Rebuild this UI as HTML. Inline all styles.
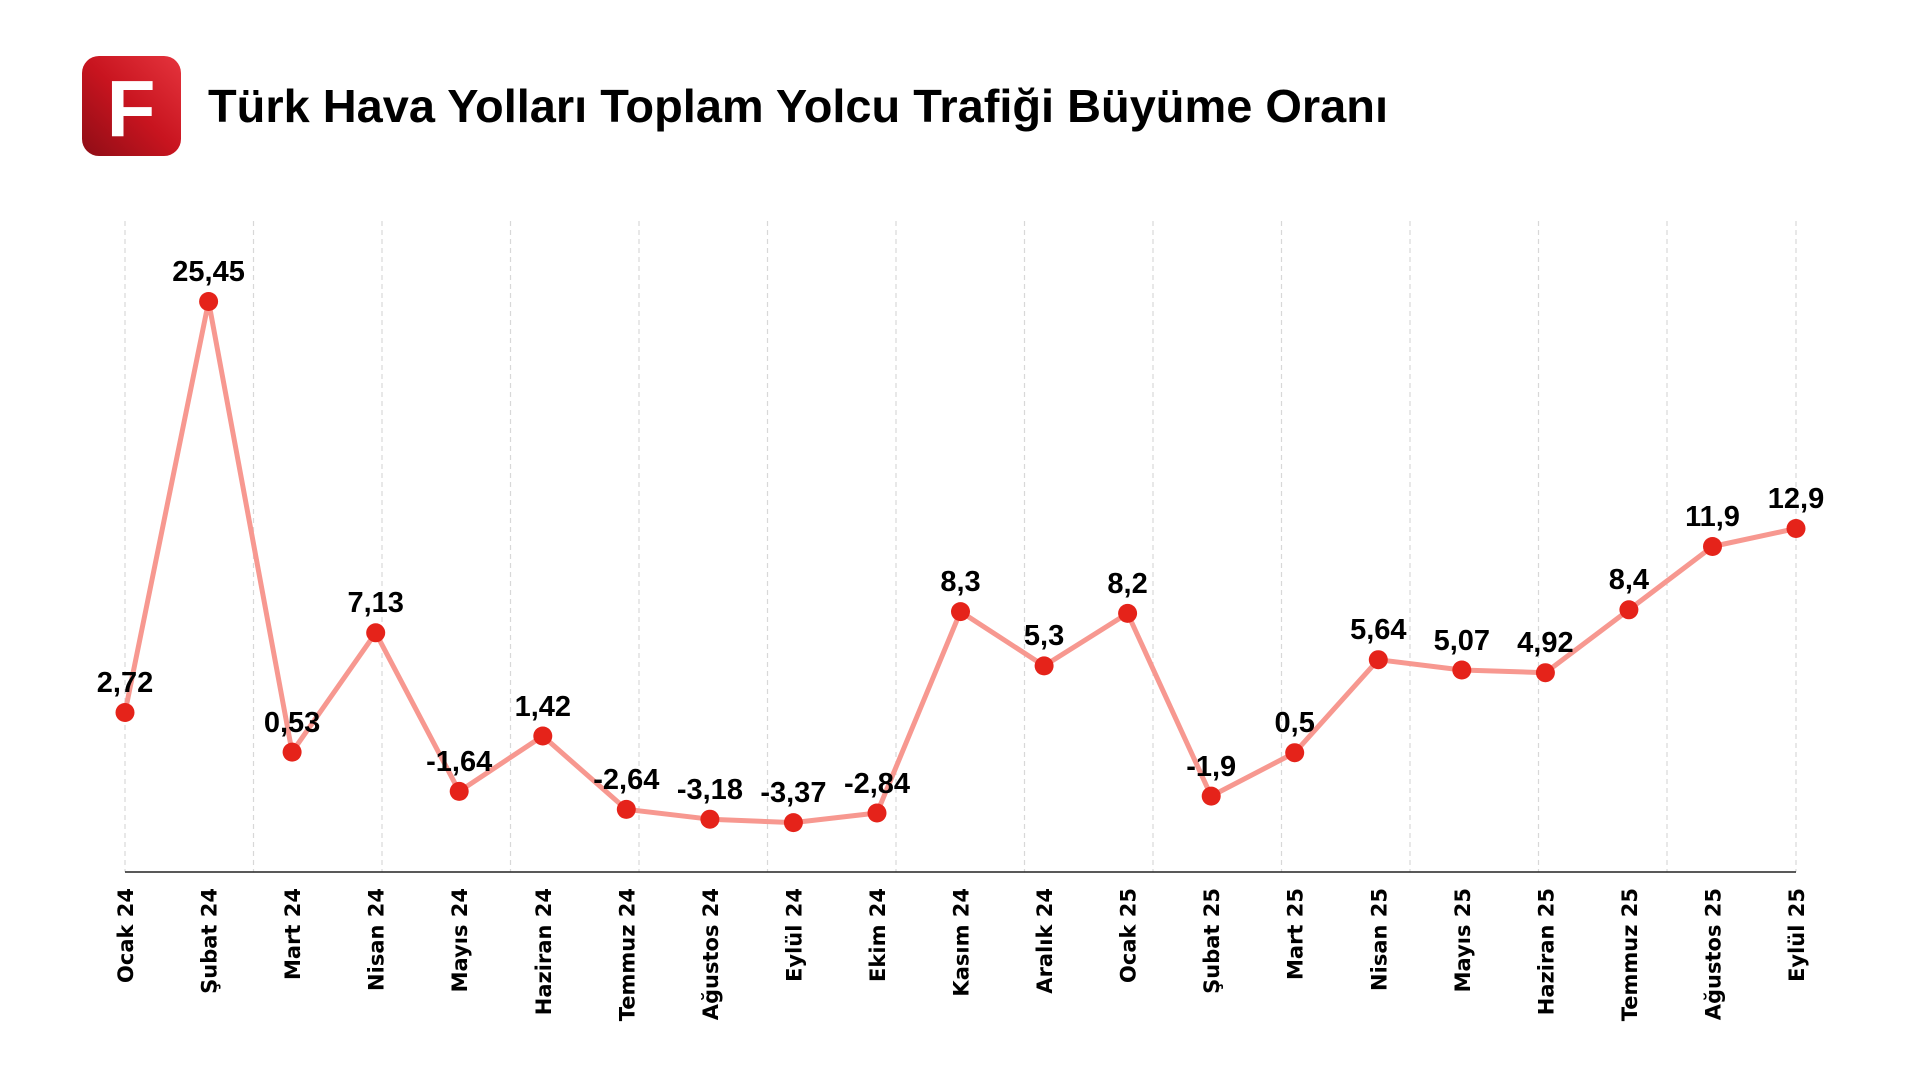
<!DOCTYPE html>
<html><head><meta charset="utf-8"><style>
html,body{margin:0;padding:0;background:#fff;width:1920px;height:1080px;overflow:hidden}
</style></head><body>
<svg width="1920" height="1080" viewBox="0 0 1920 1080" xmlns="http://www.w3.org/2000/svg">
<defs>
<linearGradient id="lg" x1="0" y1="1" x2="1" y2="0">
<stop offset="0" stop-color="#8e0d16"/><stop offset="0.5" stop-color="#c8141f"/><stop offset="1" stop-color="#e5343d"/>
</linearGradient>
</defs>
<rect x="82" y="56" width="99" height="100" rx="17" fill="url(#lg)"/>
<text x="131" y="136" text-anchor="middle" font-family="Liberation Sans Narrow, Liberation Sans, sans-serif" font-weight="bold" font-size="80" fill="#fff">F</text>
<text x="208" y="122" font-family="Liberation Sans Narrow, Liberation Sans, sans-serif" font-weight="bold" font-size="46" fill="#000" textLength="1180" lengthAdjust="spacingAndGlyphs">Türk Hava Yolları Toplam Yolcu Trafiği Büyüme Oranı</text>
<g stroke="#d8d8d8" stroke-width="1.2" stroke-dasharray="5,4">
<line x1="125" y1="221" x2="125" y2="872"/><line x1="253.5" y1="221" x2="253.5" y2="872"/><line x1="382" y1="221" x2="382" y2="872"/><line x1="510.5" y1="221" x2="510.5" y2="872"/><line x1="639" y1="221" x2="639" y2="872"/><line x1="767.5" y1="221" x2="767.5" y2="872"/><line x1="896" y1="221" x2="896" y2="872"/><line x1="1024.5" y1="221" x2="1024.5" y2="872"/><line x1="1153" y1="221" x2="1153" y2="872"/><line x1="1281.5" y1="221" x2="1281.5" y2="872"/><line x1="1410" y1="221" x2="1410" y2="872"/><line x1="1538.5" y1="221" x2="1538.5" y2="872"/><line x1="1667" y1="221" x2="1667" y2="872"/><line x1="1796" y1="221" x2="1796" y2="872"/>
</g>
<line x1="125" y1="872" x2="1796" y2="872" stroke="#222" stroke-width="1.5"/>
<polyline fill="none" stroke="#f79890" stroke-width="5" stroke-linejoin="round" points="125,712.5 208.6,301.5 292.1,752.1 375.7,632.8 459.2,791.4 542.8,736 626.3,809.4 709.9,819.2 793.4,822.6 877,813 960.5,611.6 1044.1,665.9 1127.6,613.4 1211.2,796.1 1294.7,752.7 1378.3,659.7 1461.8,670 1545.4,672.7 1628.9,609.8 1712.5,546.5 1796,528.5"/>
<g fill="#e5231a">
<circle cx="125" cy="712.5" r="9.5"/><circle cx="208.6" cy="301.5" r="9.5"/><circle cx="292.1" cy="752.1" r="9.5"/><circle cx="375.7" cy="632.8" r="9.5"/><circle cx="459.2" cy="791.4" r="9.5"/><circle cx="542.8" cy="736" r="9.5"/><circle cx="626.3" cy="809.4" r="9.5"/><circle cx="709.9" cy="819.2" r="9.5"/><circle cx="793.4" cy="822.6" r="9.5"/><circle cx="877" cy="813" r="9.5"/><circle cx="960.5" cy="611.6" r="9.5"/><circle cx="1044.1" cy="665.9" r="9.5"/><circle cx="1127.6" cy="613.4" r="9.5"/><circle cx="1211.2" cy="796.1" r="9.5"/><circle cx="1294.7" cy="752.7" r="9.5"/><circle cx="1378.3" cy="659.7" r="9.5"/><circle cx="1461.8" cy="670" r="9.5"/><circle cx="1545.4" cy="672.7" r="9.5"/><circle cx="1628.9" cy="609.8" r="9.5"/><circle cx="1712.5" cy="546.5" r="9.5"/><circle cx="1796" cy="528.5" r="9.5"/>
</g>
<g font-family="Liberation Sans Narrow, Liberation Sans, sans-serif" font-weight="bold" font-size="29" fill="#000" text-anchor="middle">
<text x="125" y="692">2,72</text><text x="208.6" y="281">25,45</text><text x="292.1" y="732">0,53</text><text x="375.7" y="612">7,13</text><text x="459.2" y="771">-1,64</text><text x="542.8" y="716">1,42</text><text x="626.3" y="789">-2,64</text><text x="709.9" y="799">-3,18</text><text x="793.4" y="802">-3,37</text><text x="877" y="793">-2,84</text><text x="960.5" y="591">8,3</text><text x="1044.1" y="645">5,3</text><text x="1127.6" y="593">8,2</text><text x="1211.2" y="776">-1,9</text><text x="1294.7" y="732">0,5</text><text x="1378.3" y="639">5,64</text><text x="1461.8" y="650">5,07</text><text x="1545.4" y="652">4,92</text><text x="1628.9" y="589">8,4</text><text x="1712.5" y="526">11,9</text><text x="1796" y="508">12,9</text>
</g>
<g font-family="DejaVu Sans, sans-serif" font-weight="bold" font-size="21" fill="#000" text-anchor="end">
<text transform="translate(133,888) rotate(-90)">Ocak 24</text>
<text transform="translate(216.6,888) rotate(-90)">Şubat 24</text>
<text transform="translate(300.1,888) rotate(-90)">Mart 24</text>
<text transform="translate(383.7,888) rotate(-90)">Nisan 24</text>
<text transform="translate(467.2,888) rotate(-90)">Mayıs 24</text>
<text transform="translate(550.8,888) rotate(-90)">Haziran 24</text>
<text transform="translate(634.3,888) rotate(-90)">Temmuz 24</text>
<text transform="translate(717.9,888) rotate(-90)">Ağustos 24</text>
<text transform="translate(801.4,888) rotate(-90)">Eylül 24</text>
<text transform="translate(885,888) rotate(-90)">Ekim 24</text>
<text transform="translate(968.5,888) rotate(-90)">Kasım 24</text>
<text transform="translate(1052.1,888) rotate(-90)">Aralık 24</text>
<text transform="translate(1135.6,888) rotate(-90)">Ocak 25</text>
<text transform="translate(1219.2,888) rotate(-90)">Şubat 25</text>
<text transform="translate(1302.7,888) rotate(-90)">Mart 25</text>
<text transform="translate(1386.3,888) rotate(-90)">Nisan 25</text>
<text transform="translate(1469.8,888) rotate(-90)">Mayıs 25</text>
<text transform="translate(1553.4,888) rotate(-90)">Haziran 25</text>
<text transform="translate(1636.9,888) rotate(-90)">Temmuz 25</text>
<text transform="translate(1720.5,888) rotate(-90)">Ağustos 25</text>
<text transform="translate(1804,888) rotate(-90)">Eylül 25</text>
</g>
</svg>
</body></html>
